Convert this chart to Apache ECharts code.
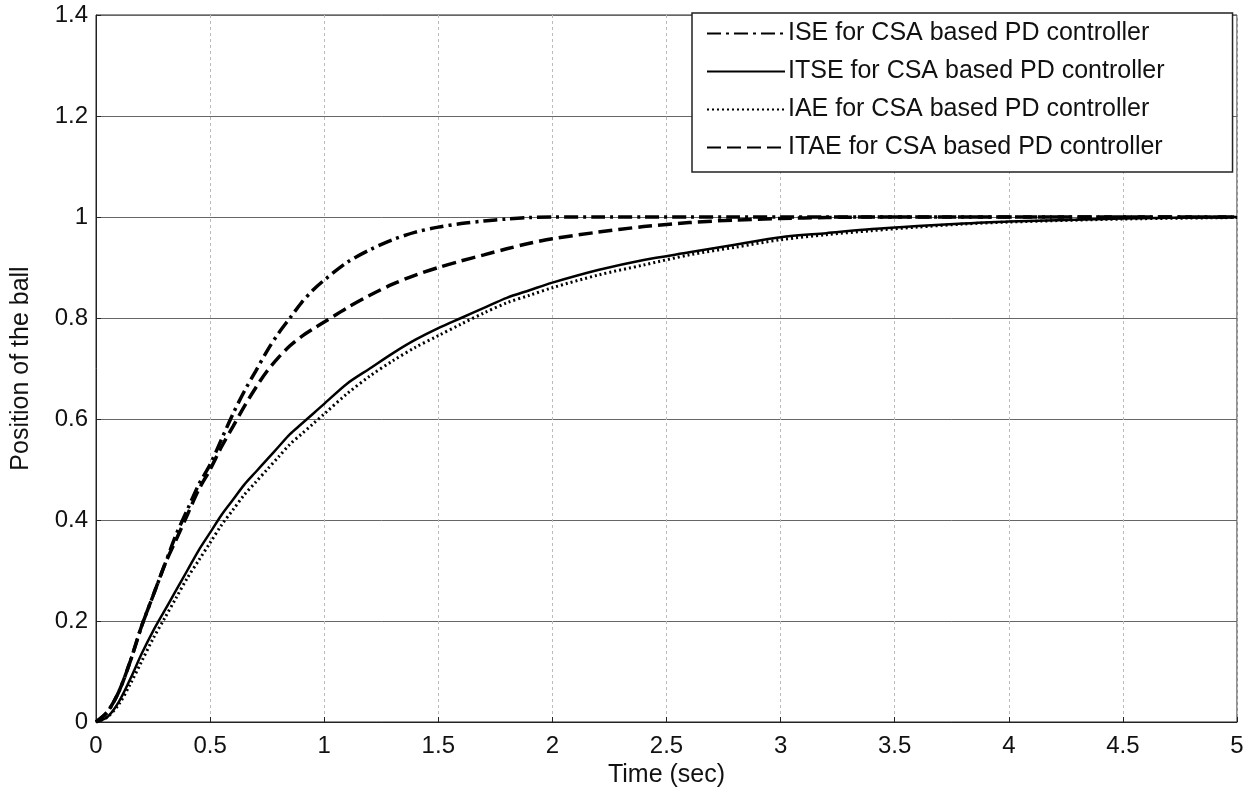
<!DOCTYPE html>
<html>
<head>
<meta charset="utf-8">
<script src="https://cdn.jsdelivr.net/npm/echarts@6/dist/echarts.min.js"></script>
<style>
html, body { margin: 0; padding: 0; background: #fff; }
#chart { width: 1251px; height: 794px; }
</style>
</head>
<body>
<div id="chart"></div>
<script>
var time = [0, 0.05, 0.1, 0.15, 0.2, 0.25, 0.3, 0.35, 0.4, 0.45, 0.5, 0.55, 0.6, 0.65, 0.7, 0.75, 0.8, 0.85, 0.9, 0.95, 1.0,
    1.1, 1.2, 1.3, 1.4, 1.5, 1.6, 1.7, 1.8, 1.9, 2.0,
    2.2, 2.4, 2.6, 2.8, 3.0, 3.2, 3.4, 3.6, 3.8, 4.0, 4.5, 5.0];

var ise = [0, 0.02, 0.06, 0.12, 0.19, 0.25, 0.31, 0.37, 0.42, 0.47, 0.51, 0.56, 0.61, 0.655, 0.695, 0.735, 0.77, 0.80, 0.83, 0.855, 0.875,
    0.91, 0.935, 0.955, 0.97, 0.98, 0.987, 0.992, 0.996, 0.999, 1.0,
    1.0, 1.0, 1.0, 1.0, 1.0, 1.0, 1.0, 1.0, 1.0, 1.0, 1.0, 1.0];

var itse = [0, 0.01, 0.04, 0.085, 0.135, 0.18, 0.22, 0.26, 0.30, 0.34, 0.375, 0.41, 0.44, 0.47, 0.495, 0.52, 0.545, 0.57, 0.59, 0.61, 0.63,
    0.67, 0.70, 0.73, 0.757, 0.78, 0.80, 0.82, 0.84, 0.855, 0.87,
    0.895, 0.915, 0.93, 0.945, 0.96, 0.968, 0.976, 0.982, 0.987, 0.991, 0.997, 1.0];

var iae = [0, 0.01, 0.035, 0.075, 0.12, 0.165, 0.205, 0.245, 0.285, 0.32, 0.355, 0.39, 0.42, 0.45, 0.475, 0.5, 0.525, 0.55, 0.57, 0.59, 0.61,
    0.65, 0.685, 0.715, 0.742, 0.765, 0.788, 0.81, 0.83, 0.845, 0.86,
    0.885, 0.905, 0.925, 0.94, 0.955, 0.965, 0.973, 0.98, 0.986, 0.99, 0.996, 0.999];

var itae = [0, 0.02, 0.06, 0.12, 0.19, 0.25, 0.31, 0.36, 0.41, 0.46, 0.5, 0.545, 0.585, 0.625, 0.662, 0.695, 0.722, 0.745, 0.763, 0.778, 0.792,
    0.82, 0.845, 0.867, 0.885, 0.90, 0.913, 0.925, 0.937, 0.948, 0.957,
    0.97, 0.981, 0.989, 0.994, 0.997, 0.999, 1.0, 1.0, 1.0, 1.0, 1.0, 1.0];

var names = ['ISE for CSA based PD controller', 'ITSE for CSA based PD controller',
    'IAE for CSA based PD controller', 'ITAE for CSA based PD controller'];

function pairs(ys) {
    return time.map(function (t, i) { return [t, ys[i]]; });
}

var font = 'Liberation Sans, Arial, sans-serif';

function line(name, ys, type, width) {
    return {
        name: name,
        type: 'line',
        data: pairs(ys),
        symbol: 'none',
        smooth: 0.3,
        lineStyle: { color: '#000', width: width, type: type },
        itemStyle: { color: '#000' },
        emphasis: { disabled: true }
    };
}

option = {
    animation: false,
    backgroundColor: '#fff',
    grid: {
        left: 96, right: 14, top: 15, bottom: 72,
        show: true, borderColor: '#222', borderWidth: 1
    },
    legend: {
        orient: 'vertical',
        left: 692, top: 13,
        padding: [8, 68, 12, 14],
        itemWidth: 78,
        itemHeight: 14,
        itemGap: 13,
        backgroundColor: '#fff',
        borderColor: '#222',
        borderWidth: 1.5,
        itemStyle: { opacity: 0 },
        textStyle: { fontFamily: font, fontSize: 25, color: '#111', padding: [0, 0, 0, -2] },
        data: names
    },
    xAxis: {
        type: 'value', min: 0, max: 5, interval: 0.5,
        name: 'Time (sec)', nameLocation: 'middle', nameGap: 41,
        nameTextStyle: { fontFamily: font, fontSize: 25, color: '#111' },
        axisLine: { lineStyle: { color: '#222' } },
        axisTick: { inside: true, length: 5, lineStyle: { color: '#222' } },
        axisLabel: { fontFamily: font, fontSize: 24, color: '#111', margin: 12 },
        splitLine: { show: true, lineStyle: { color: '#bbb', type: [3, 3] } }
    },
    yAxis: {
        type: 'value', min: 0, max: 1.4, interval: 0.2,
        name: 'Position of the ball', nameLocation: 'middle', nameGap: 62,
        nameTextStyle: { fontFamily: font, fontSize: 25, color: '#111' },
        axisLine: { show: true, lineStyle: { color: '#222' } },
        axisTick: { inside: true, length: 5, lineStyle: { color: '#222' } },
        axisLabel: { fontFamily: font, fontSize: 24, color: '#111', margin: 8 },
        splitLine: { show: true, lineStyle: { color: '#666', width: 1 } }
    },
    series: [
        line(names[0], ise, [14, 5, 3, 5], 3.5),
        line(names[1], itse, 'solid', 2.5),
        line(names[2], iae, [2, 3], 3),
        line(names[3], itae, [14, 6], 3.5)
    ]
};

var myecharts = echarts.init(document.getElementById('chart'));
myecharts.setOption(option);
</script>
</body>
</html>
